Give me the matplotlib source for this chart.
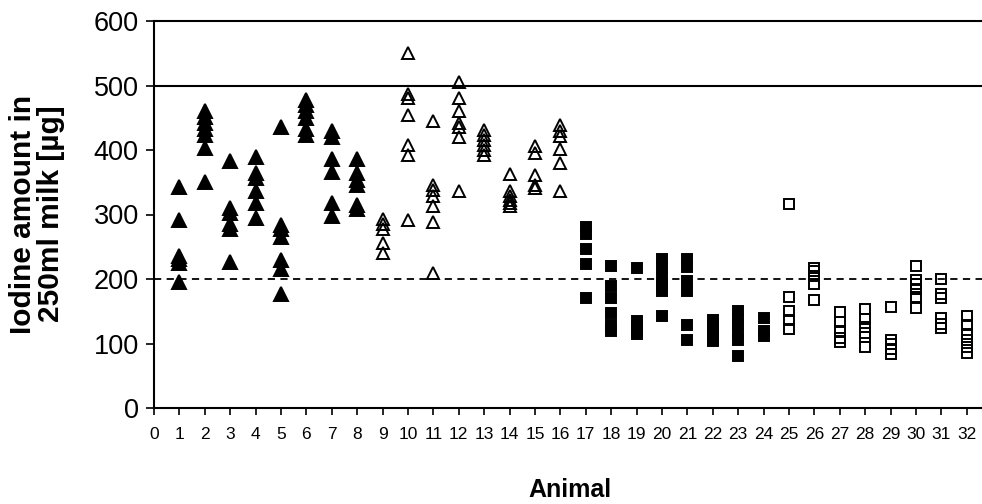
import matplotlib
matplotlib.use("Agg")
import matplotlib.pyplot as plt

plt.rcParams['font.family'] = ['Liberation Sans', 'DejaVu Sans']

# Animals 1-8: filled triangles
animals_tri_filled = [1, 2, 3, 4, 5, 6, 7, 8]
tri_filled = [
    [343, 292, 236, 231, 225, 196],
    [460, 451, 442, 433, 424, 403, 351],
    [383, 310, 303, 285, 278, 227],
    [389, 364, 356, 336, 318, 295],
    [435, 284, 277, 265, 229, 216, 176],
    [477, 470, 461, 450, 432, 424],
    [429, 420, 386, 366, 318, 297],
    [386, 364, 354, 345, 315, 309],
]

# Animals 9-16: open triangles
animals_tri_open = [9, 10, 11, 12, 13, 14, 15, 16]
tri_open = [
    [293, 285, 277, 256, 240],
    [550, 487, 480, 455, 408, 392, 292],
    [445, 346, 338, 328, 313, 289, 210],
    [505, 481, 460, 442, 436, 420, 337],
    [431, 424, 416, 408, 400, 392],
    [363, 337, 328, 322, 318, 313],
    [406, 395, 361, 346, 341],
    [439, 429, 421, 401, 380, 337],
]

# Animals 17-24: filled squares
animals_sq_filled = [17, 18, 19, 20, 21, 22, 23, 24]
sq_filled = [
    [280, 269, 247, 223, 171],
    [220, 189, 171, 148, 129, 119],
    [217, 135, 127, 120, 114],
    [231, 219, 201, 191, 182, 143],
    [231, 219, 197, 182, 129, 105],
    [136, 126, 118, 111, 104],
    [151, 138, 128, 117, 106, 80],
    [139, 120, 111],
]

# Animals 25-32: open squares
animals_sq_open = [25, 26, 27, 28, 29, 30, 31, 32]
sq_open = [
    [317, 172, 150, 136, 122],
    [217, 212, 205, 193, 168],
    [149, 134, 119, 108, 102],
    [153, 138, 125, 117, 110, 95],
    [157, 106, 100, 92, 83],
    [220, 199, 192, 185, 172, 155],
    [200, 177, 170, 140, 130, 124],
    [142, 128, 115, 105, 95, 85],
]

upper_limit = 500
lower_limit = 200
x_ticks = list(range(0, 33))
y_ticks = [0, 100, 200, 300, 400, 500, 600]

fig = plt.figure(figsize=(9.82, 5.04), dpi=100)
ax = fig.add_axes([154 / 982, 96 / 504, 828 / 982, 387 / 504])


def plot_group(animals, vals, marker, filled, ms):
    xs, ys = [], []
    for a, v in zip(animals, vals):
        xs += [a] * len(v)
        ys += v
    ax.plot(xs, ys, linestyle='none', marker=marker, markersize=ms,
            markerfacecolor='black' if filled else 'none',
            markeredgecolor='black', markeredgewidth=1.4, zorder=3,
            clip_on=False)


plot_group(animals_tri_filled, tri_filled, '^', True, 9.5)
plot_group(animals_tri_open, tri_open, '^', False, 9.0)
plot_group(animals_sq_filled, sq_filled, 's', True, 7.5)
plot_group(animals_sq_open, sq_open, 's', False, 7.0)

ax.axhline(upper_limit, color='black', linewidth=1.5, zorder=2)
ax.axhline(lower_limit, color='black', linewidth=1.3, linestyle=(0, (4, 3)), zorder=2)

ax.set_xlim(0, 32.6)
ax.set_ylim(0, 600)
ax.set_xticks(x_ticks)
ax.set_xticklabels([str(t) for t in x_ticks], fontsize=12.5)
ax.set_yticks(y_ticks)
ax.set_yticklabels([str(t) for t in y_ticks], fontsize=19.5)
ax.tick_params(axis='x', direction='out', length=5, width=1.2, pad=9)
ax.tick_params(axis='y', direction='out', length=6, width=1.2, pad=5)

for s in ['left', 'bottom', 'top']:
    ax.spines[s].set_linewidth(1.5)
ax.spines['right'].set_visible(False)

fig.text(37 / 982, 1 - 214 / 504, 'Iodine amount in\n250ml milk [µg]',
         rotation=90, ha='center', va='center', fontsize=21.5,
         fontweight='bold', linespacing=1.0)
fig.text(570 / 982, 1 - 490 / 504, 'Animal', ha='center', va='center',
         fontsize=18, fontweight='bold')

fig.savefig('out.png', dpi=100)
